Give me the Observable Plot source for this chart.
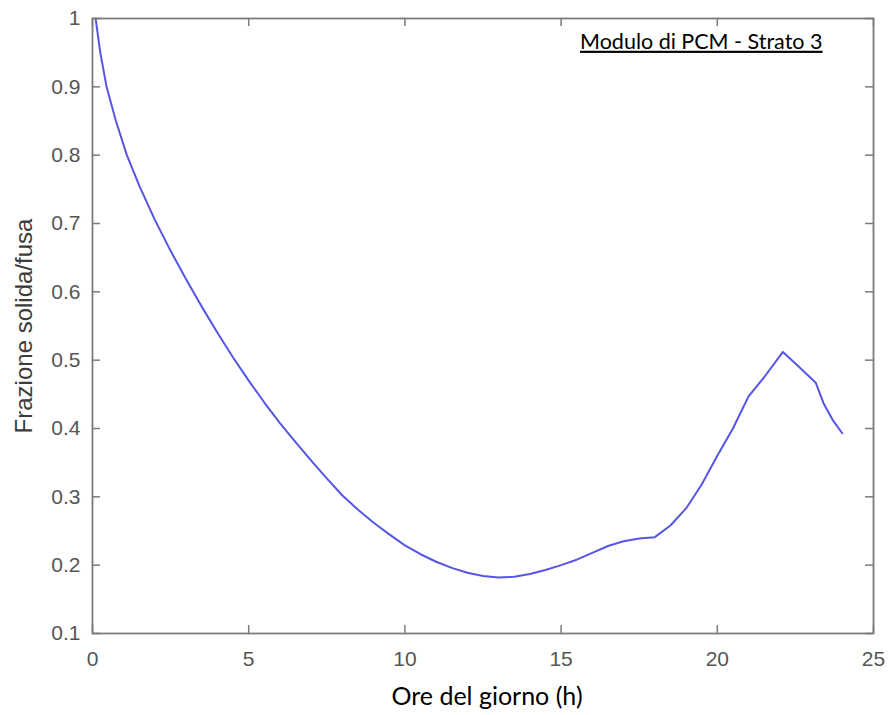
<!DOCTYPE html>
<html><head><meta charset="utf-8">
<script src="https://cdn.jsdelivr.net/npm/d3@7"></script>
<script src="https://cdn.jsdelivr.net/npm/@observablehq/plot@0.6"></script>
<style>
html,body{margin:0;padding:0;background:#fff;}
</style>
</head><body><div id="chart"></div>
<script>
const hours = [0.1,0.25,0.45,0.75,1.1,1.5,2.0,2.5,3.0,3.5,4.0,4.5,5.0,5.5,6.0,6.5,7.0,7.5,8.0,8.5,9.0,9.5,10.0,10.5,11.0,11.5,12.0,12.5,13.0,13.5,14.0,14.5,15.0,15.5,16.0,16.5,17.0,17.5,18.0,18.5,19.0,19.5,20.0,20.5,21.0,21.5,22.1,22.5,22.9,23.15,23.4,23.7,24.0];
const fraction = [1.000,0.950,0.900,0.850,0.800,0.755,0.705,0.660,0.618,0.578,0.540,0.504,0.470,0.438,0.408,0.380,0.353,0.327,0.302,0.281,0.262,0.245,0.229,0.216,0.205,0.196,0.189,0.184,0.182,0.183,0.187,0.193,0.200,0.208,0.218,0.228,0.235,0.239,0.241,0.258,0.283,0.318,0.360,0.400,0.447,0.475,0.512,0.495,0.478,0.467,0.437,0.412,0.393];
const xTicks = [0,5,10,15,20,25];
const yTicks = [0.1,0.2,0.3,0.4,0.5,0.6,0.7,0.8,0.9,1];
const xLabel = "Ore del giorno (h)";
const yLabel = "Frazione solida/fusa";
const title = "Modulo di PCM - Strato 3";

const data = hours.map((h, i) => ({h, f: fraction[i]}));

const W = 890, H = 715;
const mL = 92, mR = 17, mT = 18, mB = 82;
const fw = W - mL - mR, fh = H - mT - mB;
const tk = 8;
const axisColor = "#7a7a7a";

const svg = Plot.plot({
  width: W, height: H,
  marginLeft: mL, marginRight: mR, marginTop: mT, marginBottom: mB,
  style: {fontFamily: "'Liberation Sans', Arial, sans-serif", background: "#fff"},
  x: {domain: [0, 25]},
  y: {domain: [0.1, 1]},
  marks: [
    Plot.line(data, {x: "h", y: "f", stroke: "#5656e4", strokeWidth: 2}),
    Plot.frame({stroke: axisColor, strokeWidth: 1.8}),
    Plot.tickY(yTicks, {y: d => d, stroke: axisColor, strokeWidth: 1.5, insetRight: fw - tk}),
    Plot.tickY(yTicks, {y: d => d, stroke: axisColor, strokeWidth: 1.5, insetLeft: fw - tk}),
    Plot.tickX(xTicks, {x: d => d, stroke: axisColor, strokeWidth: 1.5, insetTop: fh - tk}),
    Plot.tickX(xTicks, {x: d => d, stroke: axisColor, strokeWidth: 1.5, insetBottom: fh - tk}),
    Plot.axisX(xTicks, {tickSize: 0, tickPadding: 18, fontSize: 21, fill: "#555", label: null, tickFormat: d => String(d)}),
    Plot.axisY(yTicks, {tickSize: 0, tickPadding: 12, fontSize: 21, fill: "#555", label: null, tickFormat: d => String(d)}),
    Plot.text([yLabel], {text: d => d, frameAnchor: "left", textAnchor: "middle", lineAnchor: "middle", rotate: -90, dx: -68, fontSize: 24, fill: "#3c3c3c"}),
    Plot.text([xLabel], {text: d => d, frameAnchor: "bottom", textAnchor: "middle", lineAnchor: "bottom", dy: 71, dx: 4, fontSize: 25, fontFamily: "Lato", fill: "#000"}),
    Plot.text([title], {text: d => d, frameAnchor: "top-right", textAnchor: "end", lineAnchor: "top", dx: -51, dy: 15, fontSize: 21.5, fontFamily: "Lato", fill: "#000"})
  ]
});

d3.select(svg).selectAll("text").filter(function() { return this.textContent === title; })
  .style("text-decoration", "underline");

document.getElementById("chart").appendChild(svg);
</script>
</body></html>
